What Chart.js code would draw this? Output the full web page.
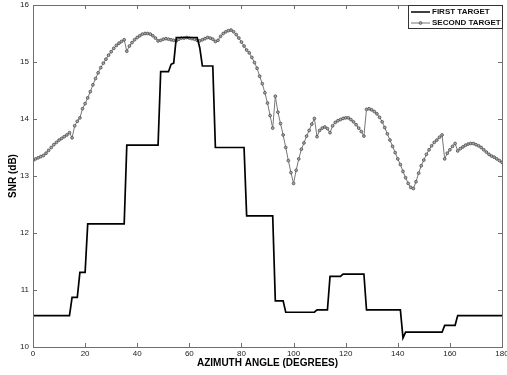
<!DOCTYPE html>
<html>
<head>
<meta charset="utf-8">
<script src="https://cdn.jsdelivr.net/npm/chart.js@4/dist/chart.umd.min.js"></script>
<style>
  html, body { margin: 0; padding: 0; background: #fff; }
  #wrap { width: 507px; height: 375px; }
</style>
</head>
<body>
<div id="wrap"><canvas id="c" width="507" height="375"></canvas></div>
<script>
// ===== Data =====
const xTicks = [0, 20, 40, 60, 80, 100, 120, 140, 160, 180];
const yTicks = [10, 11, 12, 13, 14, 15, 16];

// first target: step curve (angle, SNR) corner points
const firstAngle = [0, 14, 15, 17, 18, 20, 21, 35, 36, 48, 49, 52, 53, 54, 55, 63, 64, 65, 69, 70,
  81, 82, 92, 93, 96, 97, 108, 109, 113, 114, 118, 119, 127, 128, 141, 142, 143, 157, 158, 162, 163, 180];
const firstSnr = [10.55, 10.55, 10.87, 10.87, 11.31, 11.31, 12.16, 12.16, 13.54, 13.54, 14.83, 14.83, 14.96, 14.98, 15.43, 15.43, 15.25, 14.93, 14.93, 13.50,
  13.50, 12.30, 12.30, 10.81, 10.81, 10.61, 10.61, 10.65, 10.65, 11.24, 11.24, 11.28, 11.28, 10.65, 10.65, 10.16, 10.26, 10.26, 10.38, 10.38, 10.55, 10.55];

// second target: one sample per degree, 0..180
const secondSnr = [
  13.27, 13.30, 13.32, 13.34, 13.36, 13.40, 13.45, 13.50, 13.55, 13.59,
  13.63, 13.66, 13.69, 13.72, 13.76, 13.67, 13.88, 13.96, 14.02, 14.18,
  14.27, 14.37, 14.48, 14.60, 14.71, 14.81, 14.90, 14.98, 15.05, 15.12,
  15.18, 15.24, 15.29, 15.33, 15.36, 15.39, 15.19, 15.28, 15.34, 15.39,
  15.43, 15.46, 15.49, 15.50, 15.50, 15.49, 15.46, 15.42, 15.37, 15.38,
  15.40, 15.41, 15.40, 15.39, 15.38, 15.37, 15.40, 15.42, 15.42, 15.43,
  15.42, 15.41, 15.40, 15.38, 15.37, 15.39, 15.41, 15.43, 15.42, 15.40,
  15.36, 15.38, 15.45, 15.50, 15.53, 15.55, 15.56, 15.53, 15.48, 15.42,
  15.35, 15.28, 15.21, 15.16, 15.08, 14.99, 14.89, 14.75, 14.62, 14.46,
  14.28, 14.06, 13.84, 14.40, 14.12, 13.92, 13.72, 13.50, 13.27, 13.06,
  12.87, 13.10, 13.30, 13.47, 13.58, 13.70, 13.80, 13.91, 14.01, 13.69,
  13.80, 13.84, 13.86, 13.83, 13.76, 13.88, 13.94, 13.97, 13.99, 14.01,
  14.02, 14.02, 13.99, 13.95, 13.90, 13.84, 13.78, 13.70, 14.17, 14.18,
  14.16, 14.13, 14.09, 14.03, 13.95, 13.85, 13.74, 13.63, 13.52, 13.41,
  13.30, 13.20, 13.08, 12.97, 12.87, 12.80, 12.78, 12.90, 13.05, 13.18,
  13.28, 13.38, 13.46, 13.53, 13.59, 13.63, 13.68, 13.72, 13.30, 13.40,
  13.46, 13.52, 13.57, 13.44, 13.48, 13.51, 13.54, 13.56, 13.57, 13.57,
  13.55, 13.53, 13.50, 13.46, 13.42, 13.38, 13.35, 13.33, 13.30, 13.27,
  13.24
];

const seriesNames = ["FIRST TARGET", "SECOND TARGET"];

// ===== Style =====
const FONT = "'Liberation Sans', Arial, sans-serif";
const AXIS_GRAY = "#6f6f6f";
const SECOND_GRAY = "#767676";

// ===== Plugins =====
// matlab-like box with inward ticks
const framePlugin = {
  id: "frame",
  afterDatasetsDraw(chart) {
    const { ctx, chartArea: a, scales } = chart;
    ctx.save();
    ctx.strokeStyle = AXIS_GRAY;
    ctx.lineWidth = 1;
    ctx.strokeRect(Math.round(a.left) + 0.5, Math.round(a.top) + 0.5,
      Math.round(a.right - a.left), Math.round(a.bottom - a.top));
    const tl = 4;
    ctx.beginPath();
    xTicks.forEach(t => {
      const x = Math.round(scales.x.getPixelForValue(t)) + 0.5;
      ctx.moveTo(x, a.bottom); ctx.lineTo(x, a.bottom - tl);
      ctx.moveTo(x, a.top); ctx.lineTo(x, a.top + tl);
    });
    yTicks.forEach(t => {
      const y = Math.round(scales.y.getPixelForValue(t)) + 0.5;
      ctx.moveTo(a.left, y); ctx.lineTo(a.left + tl, y);
      ctx.moveTo(a.right, y); ctx.lineTo(a.right - tl, y);
    });
    ctx.stroke();
    ctx.restore();
  }
};

// legend box in upper right corner
const legendBox = {
  id: "legendBox",
  afterDraw(chart) {
    const { ctx, chartArea: a } = chart;
    const w = 94, h = 23;
    const x0 = Math.round(a.right) - w, y0 = Math.round(a.top);
    ctx.save();
    ctx.fillStyle = "#fff";
    ctx.fillRect(x0, y0, w, h);
    ctx.strokeStyle = "#333";
    ctx.lineWidth = 1;
    ctx.strokeRect(x0 + 0.5, y0 + 0.5, w, h);
    ctx.font = "bold 8px " + FONT;
    ctx.textBaseline = "middle";
    ctx.fillStyle = "#111";
    const rows = [y0 + 7, y0 + 18];
    // first
    ctx.strokeStyle = "#000";
    ctx.lineWidth = 1.5;
    ctx.beginPath(); ctx.moveTo(x0 + 3, rows[0]); ctx.lineTo(x0 + 22, rows[0]); ctx.stroke();
    ctx.fillText(seriesNames[0], x0 + 24, rows[0]);
    // second
    ctx.strokeStyle = SECOND_GRAY;
    ctx.lineWidth = 1;
    ctx.beginPath(); ctx.moveTo(x0 + 3, rows[1]); ctx.lineTo(x0 + 22, rows[1]); ctx.stroke();
    ctx.beginPath(); ctx.arc(x0 + 12.5, rows[1], 1.4, 0, Math.PI * 2);
    ctx.fillStyle = "#aaa"; ctx.fill(); ctx.strokeStyle = "#555"; ctx.lineWidth = 0.8; ctx.stroke();
    ctx.fillStyle = "#111";
    ctx.fillText(seriesNames[1], x0 + 24, rows[1]);
    ctx.restore();
  }
};

// ===== Chart =====
const ctx = document.getElementById("c").getContext("2d");

new Chart(ctx, {
  type: "line",
  data: {
    datasets: [
      {
        label: seriesNames[0],
        data: firstAngle.map((a, i) => ({ x: a, y: firstSnr[i] })),
        borderColor: "#000",
        borderWidth: 1.7,
        pointRadius: 0,
        tension: 0,
        order: 0
      },
      {
        label: seriesNames[1],
        data: secondSnr.map((v, i) => ({ x: i, y: v })),
        borderColor: SECOND_GRAY,
        borderWidth: 1,
        pointRadius: 1.4,
        pointBorderWidth: 0.8,
        pointBackgroundColor: "#aaaaaa",
        pointBorderColor: "#4d4d4d",
        tension: 0,
        order: 1
      }
    ]
  },
  options: {
    responsive: false,
    animation: false,
    layout: { padding: { top: 5, right: 5, left: 0, bottom: 0 } },
    plugins: {
      legend: { display: false },
      tooltip: { enabled: false }
    },
    scales: {
      x: {
        type: "linear",
        min: 0,
        max: 180,
        afterBuildTicks: s => { s.ticks = xTicks.map(v => ({ value: v })); },
        afterFit: s => { s.height = 28; s.paddingLeft = 0; s.paddingRight = 0; },
        grid: { display: false, drawTicks: false },
        border: { display: false },
        ticks: { padding: 2, color: "#222", font: { family: FONT, size: 8 } },
        title: {
          display: true,
          text: "AZIMUTH ANGLE (DEGREES)",
          color: "#000",
          font: { family: FONT, size: 10, weight: "bold" },
          padding: { top: 0, bottom: 6 }
        }
      },
      y: {
        type: "linear",
        min: 10,
        max: 16,
        afterBuildTicks: s => { s.ticks = yTicks.map(v => ({ value: v })); },
        afterFit: s => { s.width = 33; s.paddingTop = 0; s.paddingBottom = 0; },
        grid: { display: false, drawTicks: false },
        border: { display: false },
        ticks: { padding: 4, color: "#222", font: { family: FONT, size: 8 } },
        title: {
          display: true,
          text: "SNR (dB)",
          color: "#000",
          font: { family: FONT, size: 10, weight: "bold" },
          padding: { top: 7, bottom: 0 }
        }
      }
    }
  },
  plugins: [framePlugin, legendBox]
});
</script>
</body>
</html>
